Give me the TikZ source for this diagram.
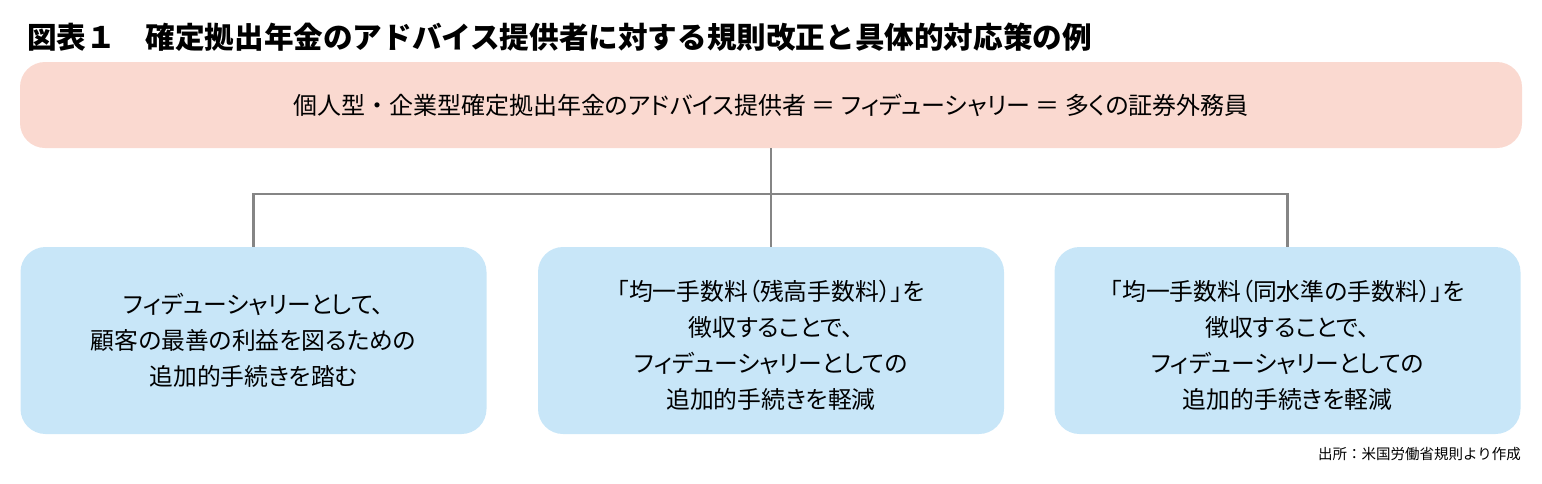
\documentclass[tikz,border=0pt]{standalone}
\usepackage{fontspec}
\newfontfamily\cjk{Noto Sans CJK JP}
\newfontfamily\cjkp[RawFeature=+palt]{Noto Sans CJK JP}
\definecolor{pinkbox}{HTML}{FAD9D0}
\definecolor{bluebox}{HTML}{C8E6F8}
\definecolor{conn}{HTML}{858585}
\newcommand{\topstrut}{\rule{0pt}{30pt}}
\begin{document}
\begin{tikzpicture}[x=1pt,y=-1pt,
  topbox/.style={fill=pinkbox, rounded corners=25pt, minimum width=1502pt, minimum height=86pt, inner sep=0pt, font=\cjkp\fontsize{24}{26}\selectfont},
  subbox/.style={fill=bluebox, rounded corners=25pt, minimum width=466pt, minimum height=187pt, inner sep=0pt, align=center, font=\cjkp\fontsize{23.8}{36}\selectfont},
  link/.style={draw=conn, line width=2.6pt}]
\useasboundingbox (0,0) rectangle (1542,483);
\node[anchor=west, inner sep=0pt, font=\cjk\bfseries\fontsize{29.6}{32}\selectfont] (title) at (27,37) {図表１　確定拠出年金のアドバイス提供者に対する規則改正と具体的対応策の例};
\node[topbox] (top) at (771,105) {個人型{\cjk ・}企業型確定拠出年金のアドバイス提供者 ＝ フィデューシャリー ＝ 多くの証券外務員};
\node[subbox] (b1) at (253.5,340.5) {フィデューシャリーとして、\\顧客の最善の利益を図るための\\追加的手続きを踏む};
\node[subbox] (b2) at (771,340.5) {\topstrut「均一手数料（残高手数料）」を\\徴収することで、\\フィデューシャリーとしての\\追加的手続きを軽減};
\node[subbox] (b3) at (1287.5,340.5) {\topstrut「均一手数料（同水準の手数料）」を\\徴収することで、\\フィデューシャリーとしての\\追加的手続きを軽減};
\coordinate (j) at (771,194);
\draw[link] (top.south) -- (b2.north);
\draw[link] (b1.north) |- (j) -| (b3.north);
\node[anchor=east, inner sep=0pt, font=\cjk\fontsize{14.5}{16}\selectfont] (src) at (1521,454) {出所：米国労働省規則より作成};
\end{tikzpicture}
\end{document}
